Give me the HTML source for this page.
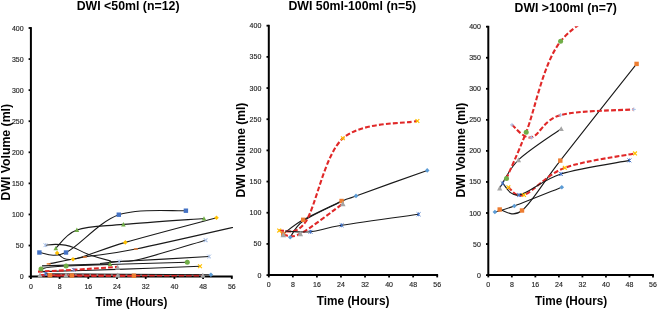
<!DOCTYPE html>
<html><head><meta charset="utf-8"><style>
html,body{margin:0;padding:0;background:#fff;width:657px;height:309px;overflow:hidden}
svg{display:block;will-change:transform}
text{font-family:"Liberation Sans", sans-serif}
</style></head><body>
<svg width="657" height="309" viewBox="0 0 657 309" font-family='"Liberation Sans", sans-serif'>
<rect width="657" height="309" fill="#fff"/>
<defs>
<clipPath id="c0"><rect x="26.9" y="27.5" width="206.1" height="252.60000000000002"/></clipPath>
<clipPath id="c1"><rect x="264.8" y="25.2" width="173.59999999999997" height="253.40000000000003"/></clipPath>
<clipPath id="c2"><rect x="484.3" y="26.2" width="169.89999999999998" height="252.40000000000003"/></clipPath>
</defs>
<line x1="28.60" y1="276.60" x2="30.90" y2="276.60" stroke="#000" stroke-width="1.8"/>
<text x="23.60" y="279.10" font-size="7" text-anchor="end" fill="#262626" stroke="#262626" stroke-width="0.15">0</text>
<line x1="28.60" y1="245.53" x2="30.90" y2="245.53" stroke="#000" stroke-width="1.8"/>
<text x="23.60" y="248.03" font-size="7" text-anchor="end" fill="#262626" stroke="#262626" stroke-width="0.15">50</text>
<line x1="28.60" y1="214.45" x2="30.90" y2="214.45" stroke="#000" stroke-width="1.8"/>
<text x="23.60" y="216.95" font-size="7" text-anchor="end" fill="#262626" stroke="#262626" stroke-width="0.15">100</text>
<line x1="28.60" y1="183.38" x2="30.90" y2="183.38" stroke="#000" stroke-width="1.8"/>
<text x="23.60" y="185.88" font-size="7" text-anchor="end" fill="#262626" stroke="#262626" stroke-width="0.15">150</text>
<line x1="28.60" y1="152.30" x2="30.90" y2="152.30" stroke="#000" stroke-width="1.8"/>
<text x="23.60" y="154.80" font-size="7" text-anchor="end" fill="#262626" stroke="#262626" stroke-width="0.15">200</text>
<line x1="28.60" y1="121.22" x2="30.90" y2="121.22" stroke="#000" stroke-width="1.8"/>
<text x="23.60" y="123.72" font-size="7" text-anchor="end" fill="#262626" stroke="#262626" stroke-width="0.15">250</text>
<line x1="28.60" y1="90.15" x2="30.90" y2="90.15" stroke="#000" stroke-width="1.8"/>
<text x="23.60" y="92.65" font-size="7" text-anchor="end" fill="#262626" stroke="#262626" stroke-width="0.15">300</text>
<line x1="28.60" y1="59.07" x2="30.90" y2="59.07" stroke="#000" stroke-width="1.8"/>
<text x="23.60" y="61.57" font-size="7" text-anchor="end" fill="#262626" stroke="#262626" stroke-width="0.15">350</text>
<line x1="28.60" y1="28.00" x2="30.90" y2="28.00" stroke="#000" stroke-width="1.8"/>
<text x="23.60" y="30.50" font-size="7" text-anchor="end" fill="#262626" stroke="#262626" stroke-width="0.15">400</text>
<line x1="30.90" y1="276.60" x2="30.90" y2="278.90" stroke="#000" stroke-width="1.8"/>
<text x="30.90" y="288.50" font-size="7" text-anchor="middle" fill="#262626" stroke="#262626" stroke-width="0.15">0</text>
<line x1="59.60" y1="276.60" x2="59.60" y2="278.90" stroke="#000" stroke-width="1.8"/>
<text x="59.60" y="288.50" font-size="7" text-anchor="middle" fill="#262626" stroke="#262626" stroke-width="0.15">8</text>
<line x1="88.30" y1="276.60" x2="88.30" y2="278.90" stroke="#000" stroke-width="1.8"/>
<text x="88.30" y="288.50" font-size="7" text-anchor="middle" fill="#262626" stroke="#262626" stroke-width="0.15">16</text>
<line x1="117.00" y1="276.60" x2="117.00" y2="278.90" stroke="#000" stroke-width="1.8"/>
<text x="117.00" y="288.50" font-size="7" text-anchor="middle" fill="#262626" stroke="#262626" stroke-width="0.15">24</text>
<line x1="145.70" y1="276.60" x2="145.70" y2="278.90" stroke="#000" stroke-width="1.8"/>
<text x="145.70" y="288.50" font-size="7" text-anchor="middle" fill="#262626" stroke="#262626" stroke-width="0.15">32</text>
<line x1="174.40" y1="276.60" x2="174.40" y2="278.90" stroke="#000" stroke-width="1.8"/>
<text x="174.40" y="288.50" font-size="7" text-anchor="middle" fill="#262626" stroke="#262626" stroke-width="0.15">40</text>
<line x1="203.10" y1="276.60" x2="203.10" y2="278.90" stroke="#000" stroke-width="1.8"/>
<text x="203.10" y="288.50" font-size="7" text-anchor="middle" fill="#262626" stroke="#262626" stroke-width="0.15">48</text>
<line x1="231.80" y1="276.60" x2="231.80" y2="278.90" stroke="#000" stroke-width="1.8"/>
<text x="231.80" y="288.50" font-size="7" text-anchor="middle" fill="#262626" stroke="#262626" stroke-width="0.15">56</text>
<line x1="30.90" y1="27.10" x2="30.90" y2="277.50" stroke="#000" stroke-width="2"/>
<line x1="30.00" y1="276.60" x2="232.70" y2="276.60" stroke="#000" stroke-width="2"/>
<text x="128.10" y="9.70" font-size="12" font-weight="bold" text-anchor="middle" textLength="102.8" lengthAdjust="spacingAndGlyphs">DWI &lt;50ml (n=12)</text>
<text transform="translate(9.70,152.20) rotate(-90)" x="0" y="0" font-size="12" font-weight="bold" text-anchor="middle" textLength="96.4" lengthAdjust="spacingAndGlyphs">DWI Volume (ml)</text>
<text x="131.40" y="306.00" font-size="12" font-weight="bold" text-anchor="middle" textLength="71.8" lengthAdjust="spacingAndGlyphs">Time (Hours)</text>
<g clip-path="url(#c0)">
<path d="M39.40,252.50 C43.83,252.50 52.77,258.80 66.00,252.50 C79.23,246.20 98.82,221.67 118.80,214.70 C138.78,207.73 174.72,211.37 185.90,210.70" fill="none" stroke="#1a1a1a" stroke-width="1.1"/>
<path d="M55.80,248.20 C59.32,245.15 65.63,233.87 76.90,229.90 C88.17,225.93 102.22,226.30 123.40,224.40 C144.58,222.50 190.57,219.48 204.00,218.50" fill="none" stroke="#1a1a1a" stroke-width="1.1"/>
<path d="M57.10,253.00 C59.75,254.05 61.63,261.07 73.00,259.30 C84.37,257.53 101.38,249.32 125.30,242.40 C149.22,235.48 201.30,221.90 216.50,217.80" fill="none" stroke="#1a1a1a" stroke-width="1.1"/>
<path d="M45.40,245.20 C47.03,245.07 51.92,244.42 55.20,244.40 C58.48,244.38 62.05,244.60 65.10,245.10 C68.15,245.60 69.57,245.82 73.50,247.40 C77.43,248.98 82.73,252.40 88.70,254.60 C94.67,256.80 104.22,259.45 109.30,260.60 C114.38,261.75 102.57,262.18 119.20,261.50 C135.83,260.82 194.12,257.33 209.10,256.50" fill="none" stroke="#1a1a1a" stroke-width="1.1"/>
<path d="M48.70,263.90 C54.72,262.75 70.27,259.48 84.80,257.00 C99.33,254.52 108.37,254.58 135.90,249.00 C163.43,243.42 230.98,227.75 250.00,223.50" fill="none" stroke="#1a1a1a" stroke-width="1.1"/>
<path d="M41.00,268.90 C45.18,268.42 41.72,267.10 66.10,266.00 C90.48,264.90 167.10,262.92 187.30,262.30" fill="none" stroke="#1a1a1a" stroke-width="1.1"/>
<path d="" fill="none" stroke="#1a1a1a" stroke-width="1.1"/>
<path d="M100.00,263.50 C103.20,263.17 112.37,262.25 119.20,261.50 C126.03,260.75 126.60,262.55 141.00,259.00 C155.40,255.45 194.83,243.33 205.60,240.20" fill="none" stroke="#1a1a1a" stroke-width="1.1"/>
<path d="M41.00,271.60 C53.67,271.23 90.50,270.30 117.00,269.40 C143.50,268.50 186.17,266.73 200.00,266.20" fill="none" stroke="#1a1a1a" stroke-width="1.1"/>
<path d="M38.00,271.60 C43.95,271.30 60.42,270.58 73.70,269.80 C86.98,269.02 110.37,267.38 117.70,266.90" fill="none" stroke="#E02828" stroke-width="2.1" stroke-dasharray="4.8,2.2"/>
<path d="" fill="none" stroke="#1a1a1a" stroke-width="1.1"/>
<path d="M42.00,265.90 L110.00,263.90" fill="none" stroke="#1a1a1a" stroke-width="1.1"/>
<path d="M40.00,275.20 C44.33,275.20 53.05,275.20 66.00,275.20 C78.95,275.20 94.90,275.17 117.70,275.20 C140.50,275.23 188.62,275.37 202.80,275.40" fill="none" stroke="#E02828" stroke-width="2.4" stroke-dasharray="5.4,1.9"/>
<path d="M50.00,275.20 C53.63,275.25 57.82,275.42 71.80,275.50 C85.78,275.58 123.55,275.67 133.90,275.70" fill="none" stroke="#E02828" stroke-width="2.1" stroke-dasharray="4.8,2.2"/>
<path d="M45.40,273.80 L210.90,274.80" fill="none" stroke="#1a1a1a" stroke-width="1.1"/>
<path d="" fill="none" stroke="#1a1a1a" stroke-width="1.1"/>
<rect x="37.20" y="250.30" width="4.40" height="4.40" fill="#4472C4"/>
<rect x="63.80" y="250.30" width="4.40" height="4.40" fill="#4472C4"/>
<rect x="116.60" y="212.50" width="4.40" height="4.40" fill="#4472C4"/>
<rect x="183.70" y="208.50" width="4.40" height="4.40" fill="#4472C4"/>
<path d="M55.80,245.90 L58.10,250.20 L53.50,250.20Z" fill="#70AD47"/>
<path d="M76.90,227.60 L79.20,231.90 L74.60,231.90Z" fill="#70AD47"/>
<path d="M123.40,222.10 L125.70,226.40 L121.10,226.40Z" fill="#70AD47"/>
<path d="M204.00,216.20 L206.30,220.50 L201.70,220.50Z" fill="#70AD47"/>
<path d="M57.10,250.70 L59.40,253.00 L57.10,255.30 L54.80,253.00Z" fill="#FFC000"/>
<path d="M73.00,257.00 L75.30,259.30 L73.00,261.60 L70.70,259.30Z" fill="#FFC000"/>
<path d="M125.30,240.10 L127.60,242.40 L125.30,244.70 L123.00,242.40Z" fill="#FFC000"/>
<path d="M216.50,215.50 L218.80,217.80 L216.50,220.10 L214.20,217.80Z" fill="#FFC000"/>
<path d="M43.50,243.30 L47.30,247.10 M47.30,243.30 L43.50,247.10 M45.40,243.30 L45.40,247.10" stroke="#A9C0E6" stroke-width="1" fill="none"/>
<path d="M117.30,259.60 L121.10,263.40 M121.10,259.60 L117.30,263.40 M119.20,259.60 L119.20,263.40" stroke="#A9C0E6" stroke-width="1" fill="none"/>
<path d="M207.20,254.60 L211.00,258.40 M211.00,254.60 L207.20,258.40 M209.10,254.60 L209.10,258.40" stroke="#A9C0E6" stroke-width="1" fill="none"/>
<rect x="46.70" y="263.20" width="4.00" height="1.4" fill="#ED7D31"/>
<rect x="82.80" y="256.30" width="4.00" height="1.4" fill="#ED7D31"/>
<rect x="133.90" y="248.30" width="4.00" height="1.4" fill="#ED7D31"/>
<circle cx="41.00" cy="268.90" r="2.50" fill="#70AD47"/>
<circle cx="66.10" cy="266.00" r="2.50" fill="#70AD47"/>
<circle cx="187.30" cy="262.30" r="2.50" fill="#70AD47"/>
<path d="M110.00,261.60 L112.30,265.90 L107.70,265.90Z" fill="#70AD47"/>
<path d="M203.70,238.30 L207.50,242.10 M207.50,238.30 L203.70,242.10" stroke="#A9C0E6" stroke-width="1.2" fill="none"/>
<path d="M198.10,264.30 L201.90,268.10 M201.90,264.30 L198.10,268.10" stroke="#FFC000" stroke-width="1.2" fill="none"/>
<path d="M71.80,267.90 L75.60,271.70 M75.60,267.90 L71.80,271.70 M73.70,267.90 L73.70,271.70" stroke="#7F7FBF" stroke-width="1" fill="none"/>
<path d="M117.70,264.80 L120.30,269.70 L115.10,269.70Z" fill="#A5A5A5"/>
<path d="M40.00,272.50 L42.70,277.60 L37.30,277.60Z" fill="#A5A5A5"/>
<path d="M66.00,272.50 L68.70,277.60 L63.30,277.60Z" fill="#A5A5A5"/>
<path d="M117.70,272.50 L120.40,277.60 L115.00,277.60Z" fill="#A5A5A5"/>
<path d="M202.80,272.70 L205.50,277.80 L200.10,277.80Z" fill="#A5A5A5"/>
<rect x="47.80" y="273.00" width="4.40" height="4.40" fill="#ED7D31"/>
<rect x="69.60" y="273.30" width="4.40" height="4.40" fill="#ED7D31"/>
<rect x="131.70" y="273.50" width="4.40" height="4.40" fill="#ED7D31"/>
<path d="M210.90,272.50 L213.20,274.80 L210.90,277.10 L208.60,274.80Z" fill="#5B9BD5"/>
<path d="M43.50,271.90 L47.30,275.70 M47.30,271.90 L43.50,275.70 M45.40,271.90 L45.40,275.70" stroke="#4472C4" stroke-width="1" fill="none"/>
</g>
<line x1="266.50" y1="275.10" x2="268.80" y2="275.10" stroke="#000" stroke-width="1.8"/>
<text x="261.30" y="277.60" font-size="7" text-anchor="end" fill="#262626" stroke="#262626" stroke-width="0.15">0</text>
<line x1="266.50" y1="243.93" x2="268.80" y2="243.93" stroke="#000" stroke-width="1.8"/>
<text x="261.30" y="246.43" font-size="7" text-anchor="end" fill="#262626" stroke="#262626" stroke-width="0.15">50</text>
<line x1="266.50" y1="212.75" x2="268.80" y2="212.75" stroke="#000" stroke-width="1.8"/>
<text x="261.30" y="215.25" font-size="7" text-anchor="end" fill="#262626" stroke="#262626" stroke-width="0.15">100</text>
<line x1="266.50" y1="181.57" x2="268.80" y2="181.57" stroke="#000" stroke-width="1.8"/>
<text x="261.30" y="184.07" font-size="7" text-anchor="end" fill="#262626" stroke="#262626" stroke-width="0.15">150</text>
<line x1="266.50" y1="150.40" x2="268.80" y2="150.40" stroke="#000" stroke-width="1.8"/>
<text x="261.30" y="152.90" font-size="7" text-anchor="end" fill="#262626" stroke="#262626" stroke-width="0.15">200</text>
<line x1="266.50" y1="119.22" x2="268.80" y2="119.22" stroke="#000" stroke-width="1.8"/>
<text x="261.30" y="121.72" font-size="7" text-anchor="end" fill="#262626" stroke="#262626" stroke-width="0.15">250</text>
<line x1="266.50" y1="88.05" x2="268.80" y2="88.05" stroke="#000" stroke-width="1.8"/>
<text x="261.30" y="90.55" font-size="7" text-anchor="end" fill="#262626" stroke="#262626" stroke-width="0.15">300</text>
<line x1="266.50" y1="56.88" x2="268.80" y2="56.88" stroke="#000" stroke-width="1.8"/>
<text x="261.30" y="59.38" font-size="7" text-anchor="end" fill="#262626" stroke="#262626" stroke-width="0.15">350</text>
<line x1="266.50" y1="25.70" x2="268.80" y2="25.70" stroke="#000" stroke-width="1.8"/>
<text x="261.30" y="28.20" font-size="7" text-anchor="end" fill="#262626" stroke="#262626" stroke-width="0.15">400</text>
<line x1="268.80" y1="275.10" x2="268.80" y2="277.40" stroke="#000" stroke-width="1.8"/>
<text x="268.80" y="287.00" font-size="7" text-anchor="middle" fill="#262626" stroke="#262626" stroke-width="0.15">0</text>
<line x1="292.86" y1="275.10" x2="292.86" y2="277.40" stroke="#000" stroke-width="1.8"/>
<text x="292.86" y="287.00" font-size="7" text-anchor="middle" fill="#262626" stroke="#262626" stroke-width="0.15">8</text>
<line x1="316.91" y1="275.10" x2="316.91" y2="277.40" stroke="#000" stroke-width="1.8"/>
<text x="316.91" y="287.00" font-size="7" text-anchor="middle" fill="#262626" stroke="#262626" stroke-width="0.15">16</text>
<line x1="340.97" y1="275.10" x2="340.97" y2="277.40" stroke="#000" stroke-width="1.8"/>
<text x="340.97" y="287.00" font-size="7" text-anchor="middle" fill="#262626" stroke="#262626" stroke-width="0.15">24</text>
<line x1="365.03" y1="275.10" x2="365.03" y2="277.40" stroke="#000" stroke-width="1.8"/>
<text x="365.03" y="287.00" font-size="7" text-anchor="middle" fill="#262626" stroke="#262626" stroke-width="0.15">32</text>
<line x1="389.09" y1="275.10" x2="389.09" y2="277.40" stroke="#000" stroke-width="1.8"/>
<text x="389.09" y="287.00" font-size="7" text-anchor="middle" fill="#262626" stroke="#262626" stroke-width="0.15">40</text>
<line x1="413.14" y1="275.10" x2="413.14" y2="277.40" stroke="#000" stroke-width="1.8"/>
<text x="413.14" y="287.00" font-size="7" text-anchor="middle" fill="#262626" stroke="#262626" stroke-width="0.15">48</text>
<line x1="437.20" y1="275.10" x2="437.20" y2="277.40" stroke="#000" stroke-width="1.8"/>
<text x="437.20" y="287.00" font-size="7" text-anchor="middle" fill="#262626" stroke="#262626" stroke-width="0.15">56</text>
<line x1="268.80" y1="24.80" x2="268.80" y2="276.00" stroke="#000" stroke-width="2"/>
<line x1="267.90" y1="275.10" x2="438.10" y2="275.10" stroke="#000" stroke-width="2"/>
<text x="352.30" y="9.70" font-size="12" font-weight="bold" text-anchor="middle" textLength="127.8" lengthAdjust="spacingAndGlyphs">DWI 50ml-100ml (n=5)</text>
<text transform="translate(244.60,150.10) rotate(-90)" x="0" y="0" font-size="12" font-weight="bold" text-anchor="middle" textLength="95.0" lengthAdjust="spacingAndGlyphs">DWI Volume (ml)</text>
<text x="353.10" y="304.70" font-size="12" font-weight="bold" text-anchor="middle" textLength="72.7" lengthAdjust="spacingAndGlyphs">Time (Hours)</text>
<g clip-path="url(#c1)">
<path d="M290.20,237.20 C292.42,234.47 294.93,226.75 303.50,220.80 C312.07,214.85 332.85,205.65 341.60,201.50 C350.35,197.35 341.73,201.08 356.00,195.90 C370.27,190.72 415.33,174.65 427.20,170.40" fill="none" stroke="#1a1a1a" stroke-width="1.1"/>
<path d="M283.20,234.00 C286.53,231.63 293.47,225.30 303.20,219.80 C312.93,214.30 335.20,204.13 341.60,201.00" fill="none" stroke="#1a1a1a" stroke-width="1.1"/>
<path d="M283.30,234.80 C286.13,234.63 290.38,238.98 300.30,233.80 C310.22,228.62 335.72,208.72 342.80,203.70" fill="none" stroke="#E02828" stroke-width="2.1" stroke-dasharray="4.8,2.2"/>
<path d="M279.20,230.60 C283.58,229.17 294.88,237.38 305.50,222.00 C316.12,206.62 324.25,155.13 342.90,138.30 C361.55,121.47 404.98,123.88 417.40,121.00" fill="none" stroke="#E02828" stroke-width="2.1" stroke-dasharray="4.8,2.2"/>
<path d="M285.00,231.00 C289.25,231.13 301.07,232.75 310.50,231.80 C319.93,230.85 323.58,228.22 341.60,225.30 C359.62,222.38 405.77,216.13 418.60,214.30" fill="none" stroke="#1a1a1a" stroke-width="1.1"/>
<path d="M290.20,234.90 L292.50,237.20 L290.20,239.50 L287.90,237.20Z" fill="#5B9BD5"/>
<path d="M356.00,193.60 L358.30,195.90 L356.00,198.20 L353.70,195.90Z" fill="#5B9BD5"/>
<path d="M427.20,168.10 L429.50,170.40 L427.20,172.70 L424.90,170.40Z" fill="#5B9BD5"/>
<rect x="281.00" y="231.80" width="4.40" height="4.40" fill="#ED7D31"/>
<rect x="301.00" y="217.60" width="4.40" height="4.40" fill="#ED7D31"/>
<rect x="339.40" y="198.80" width="4.40" height="4.40" fill="#ED7D31"/>
<path d="M283.30,232.00 L286.10,237.30 L280.50,237.30Z" fill="#A5A5A5"/>
<path d="M300.30,231.00 L303.10,236.30 L297.50,236.30Z" fill="#A5A5A5"/>
<path d="M342.80,200.90 L345.60,206.20 L340.00,206.20Z" fill="#A5A5A5"/>
<path d="M277.30,228.70 L281.10,232.50 M281.10,228.70 L277.30,232.50" stroke="#FFC000" stroke-width="1.2" fill="none"/>
<path d="M341.00,136.40 L344.80,140.20 M344.80,136.40 L341.00,140.20" stroke="#FFC000" stroke-width="1.2" fill="none"/>
<path d="M415.50,119.10 L419.30,122.90 M419.30,119.10 L415.50,122.90" stroke="#FFC000" stroke-width="1.2" fill="none"/>
<path d="M308.60,229.90 L312.40,233.70 M312.40,229.90 L308.60,233.70 M310.50,229.90 L310.50,233.70" stroke="#4472C4" stroke-width="1" fill="none"/>
<path d="M339.70,223.40 L343.50,227.20 M343.50,223.40 L339.70,227.20 M341.60,223.40 L341.60,227.20" stroke="#4472C4" stroke-width="1" fill="none"/>
<path d="M416.70,212.40 L420.50,216.20 M420.50,212.40 L416.70,216.20 M418.60,212.40 L418.60,216.20" stroke="#4472C4" stroke-width="1" fill="none"/>
</g>
<line x1="486.00" y1="275.10" x2="488.30" y2="275.10" stroke="#000" stroke-width="1.8"/>
<text x="480.90" y="277.60" font-size="7" text-anchor="end" fill="#262626" stroke="#262626" stroke-width="0.15">0</text>
<line x1="486.00" y1="244.05" x2="488.30" y2="244.05" stroke="#000" stroke-width="1.8"/>
<text x="480.90" y="246.55" font-size="7" text-anchor="end" fill="#262626" stroke="#262626" stroke-width="0.15">50</text>
<line x1="486.00" y1="213.00" x2="488.30" y2="213.00" stroke="#000" stroke-width="1.8"/>
<text x="480.90" y="215.50" font-size="7" text-anchor="end" fill="#262626" stroke="#262626" stroke-width="0.15">100</text>
<line x1="486.00" y1="181.95" x2="488.30" y2="181.95" stroke="#000" stroke-width="1.8"/>
<text x="480.90" y="184.45" font-size="7" text-anchor="end" fill="#262626" stroke="#262626" stroke-width="0.15">150</text>
<line x1="486.00" y1="150.90" x2="488.30" y2="150.90" stroke="#000" stroke-width="1.8"/>
<text x="480.90" y="153.40" font-size="7" text-anchor="end" fill="#262626" stroke="#262626" stroke-width="0.15">200</text>
<line x1="486.00" y1="119.85" x2="488.30" y2="119.85" stroke="#000" stroke-width="1.8"/>
<text x="480.90" y="122.35" font-size="7" text-anchor="end" fill="#262626" stroke="#262626" stroke-width="0.15">250</text>
<line x1="486.00" y1="88.80" x2="488.30" y2="88.80" stroke="#000" stroke-width="1.8"/>
<text x="480.90" y="91.30" font-size="7" text-anchor="end" fill="#262626" stroke="#262626" stroke-width="0.15">300</text>
<line x1="486.00" y1="57.75" x2="488.30" y2="57.75" stroke="#000" stroke-width="1.8"/>
<text x="480.90" y="60.25" font-size="7" text-anchor="end" fill="#262626" stroke="#262626" stroke-width="0.15">350</text>
<line x1="486.00" y1="26.70" x2="488.30" y2="26.70" stroke="#000" stroke-width="1.8"/>
<text x="480.90" y="29.20" font-size="7" text-anchor="end" fill="#262626" stroke="#262626" stroke-width="0.15">400</text>
<line x1="488.30" y1="275.10" x2="488.30" y2="277.40" stroke="#000" stroke-width="1.8"/>
<text x="488.30" y="287.00" font-size="7" text-anchor="middle" fill="#262626" stroke="#262626" stroke-width="0.15">0</text>
<line x1="511.83" y1="275.10" x2="511.83" y2="277.40" stroke="#000" stroke-width="1.8"/>
<text x="511.83" y="287.00" font-size="7" text-anchor="middle" fill="#262626" stroke="#262626" stroke-width="0.15">8</text>
<line x1="535.36" y1="275.10" x2="535.36" y2="277.40" stroke="#000" stroke-width="1.8"/>
<text x="535.36" y="287.00" font-size="7" text-anchor="middle" fill="#262626" stroke="#262626" stroke-width="0.15">16</text>
<line x1="558.89" y1="275.10" x2="558.89" y2="277.40" stroke="#000" stroke-width="1.8"/>
<text x="558.89" y="287.00" font-size="7" text-anchor="middle" fill="#262626" stroke="#262626" stroke-width="0.15">24</text>
<line x1="582.41" y1="275.10" x2="582.41" y2="277.40" stroke="#000" stroke-width="1.8"/>
<text x="582.41" y="287.00" font-size="7" text-anchor="middle" fill="#262626" stroke="#262626" stroke-width="0.15">32</text>
<line x1="605.94" y1="275.10" x2="605.94" y2="277.40" stroke="#000" stroke-width="1.8"/>
<text x="605.94" y="287.00" font-size="7" text-anchor="middle" fill="#262626" stroke="#262626" stroke-width="0.15">40</text>
<line x1="629.47" y1="275.10" x2="629.47" y2="277.40" stroke="#000" stroke-width="1.8"/>
<text x="629.47" y="287.00" font-size="7" text-anchor="middle" fill="#262626" stroke="#262626" stroke-width="0.15">48</text>
<line x1="653.00" y1="275.10" x2="653.00" y2="277.40" stroke="#000" stroke-width="1.8"/>
<text x="653.00" y="287.00" font-size="7" text-anchor="middle" fill="#262626" stroke="#262626" stroke-width="0.15">56</text>
<line x1="488.30" y1="25.80" x2="488.30" y2="276.00" stroke="#000" stroke-width="2"/>
<line x1="487.40" y1="275.10" x2="653.90" y2="275.10" stroke="#000" stroke-width="2"/>
<text x="565.70" y="12.00" font-size="12" font-weight="bold" text-anchor="middle" textLength="102.3" lengthAdjust="spacingAndGlyphs">DWI &gt;100ml (n=7)</text>
<text transform="translate(464.60,150.10) rotate(-90)" x="0" y="0" font-size="12" font-weight="bold" text-anchor="middle" textLength="95.0" lengthAdjust="spacingAndGlyphs">DWI Volume (ml)</text>
<text x="571.10" y="304.70" font-size="12" font-weight="bold" text-anchor="middle" textLength="72.3" lengthAdjust="spacingAndGlyphs">Time (Hours)</text>
<g clip-path="url(#c2)">
<path d="M494.90,212.00 C498.13,211.00 503.15,210.13 514.30,206.00 C525.45,201.87 553.88,190.33 561.80,187.20" fill="none" stroke="#1a1a1a" stroke-width="1.1"/>
<path d="M499.70,209.50 C503.42,209.67 511.90,218.65 522.00,210.50 C532.10,202.35 541.20,185.03 560.30,160.60 C579.40,136.17 623.88,80.02 636.60,63.90" fill="none" stroke="#1a1a1a" stroke-width="1.1"/>
<path d="M499.70,188.20 C502.83,183.48 508.25,169.80 518.50,159.90 C528.75,150.00 554.08,133.98 561.20,128.80" fill="none" stroke="#1a1a1a" stroke-width="1.1"/>
<path d="M508.40,187.20 C511.00,188.50 514.60,198.23 524.00,195.00 C533.40,191.77 546.30,174.73 564.80,167.80 C583.30,160.87 623.30,155.80 635.00,153.40" fill="none" stroke="#E02828" stroke-width="2.1" stroke-dasharray="4.8,2.2"/>
<path d="M502.60,183.30 C505.35,185.25 509.38,196.55 519.10,195.00 C528.82,193.45 542.52,179.77 560.90,174.00 C579.28,168.23 617.98,162.67 629.40,160.40" fill="none" stroke="#1a1a1a" stroke-width="1.1"/>
<path d="M506.50,178.40 C509.78,170.70 517.18,155.05 526.20,132.20 C535.22,109.35 542.80,64.17 560.60,41.30 C578.40,18.43 620.93,2.72 633.00,-5.00" fill="none" stroke="#E02828" stroke-width="2.1" stroke-dasharray="4.8,2.2"/>
<path d="M512.00,124.90 C515.23,126.98 523.33,139.03 531.40,137.40 C539.47,135.77 543.33,119.77 560.40,115.10 C577.47,110.43 621.57,110.35 633.80,109.40" fill="none" stroke="#E02828" stroke-width="2.1" stroke-dasharray="4.8,2.2"/>
<path d="M494.90,209.70 L497.20,212.00 L494.90,214.30 L492.60,212.00Z" fill="#5B9BD5"/>
<path d="M514.30,203.70 L516.60,206.00 L514.30,208.30 L512.00,206.00Z" fill="#5B9BD5"/>
<path d="M561.80,184.90 L564.10,187.20 L561.80,189.50 L559.50,187.20Z" fill="#5B9BD5"/>
<rect x="497.50" y="207.30" width="4.40" height="4.40" fill="#ED7D31"/>
<rect x="519.80" y="208.30" width="4.40" height="4.40" fill="#ED7D31"/>
<rect x="558.10" y="158.40" width="4.40" height="4.40" fill="#ED7D31"/>
<rect x="634.40" y="61.70" width="4.40" height="4.40" fill="#ED7D31"/>
<path d="M499.70,185.60 L502.30,190.50 L497.10,190.50Z" fill="#A5A5A5"/>
<path d="M518.50,157.30 L521.10,162.20 L515.90,162.20Z" fill="#A5A5A5"/>
<path d="M561.20,126.20 L563.80,131.10 L558.60,131.10Z" fill="#A5A5A5"/>
<path d="M506.50,185.30 L510.30,189.10 M510.30,185.30 L506.50,189.10" stroke="#FFC000" stroke-width="1.2" fill="none"/>
<path d="M522.10,193.10 L525.90,196.90 M525.90,193.10 L522.10,196.90" stroke="#FFC000" stroke-width="1.2" fill="none"/>
<path d="M562.90,165.90 L566.70,169.70 M566.70,165.90 L562.90,169.70" stroke="#FFC000" stroke-width="1.2" fill="none"/>
<path d="M633.10,151.50 L636.90,155.30 M636.90,151.50 L633.10,155.30" stroke="#FFC000" stroke-width="1.2" fill="none"/>
<path d="M500.70,181.40 L504.50,185.20 M504.50,181.40 L500.70,185.20 M502.60,181.40 L502.60,185.20" stroke="#4472C4" stroke-width="1" fill="none"/>
<path d="M517.20,193.10 L521.00,196.90 M521.00,193.10 L517.20,196.90 M519.10,193.10 L519.10,196.90" stroke="#4472C4" stroke-width="1" fill="none"/>
<path d="M559.00,172.10 L562.80,175.90 M562.80,172.10 L559.00,175.90 M560.90,172.10 L560.90,175.90" stroke="#4472C4" stroke-width="1" fill="none"/>
<path d="M627.50,158.50 L631.30,162.30 M631.30,158.50 L627.50,162.30 M629.40,158.50 L629.40,162.30" stroke="#4472C4" stroke-width="1" fill="none"/>
<circle cx="506.50" cy="178.40" r="2.50" fill="#70AD47"/>
<circle cx="526.20" cy="132.20" r="2.50" fill="#70AD47"/>
<circle cx="560.60" cy="41.30" r="2.50" fill="#70AD47"/>
<path d="M510.00,124.90 L514.00,124.90 M512.00,122.90 L512.00,126.90" stroke="#A9C0E6" stroke-width="1" fill="none"/>
<path d="M529.40,137.40 L533.40,137.40 M531.40,135.40 L531.40,139.40" stroke="#A9C0E6" stroke-width="1" fill="none"/>
<path d="M558.40,115.10 L562.40,115.10 M560.40,113.10 L560.40,117.10" stroke="#A9C0E6" stroke-width="1" fill="none"/>
<path d="M631.80,109.40 L635.80,109.40 M633.80,107.40 L633.80,111.40" stroke="#A9C0E6" stroke-width="1" fill="none"/>
</g>
</svg>
</body></html>
